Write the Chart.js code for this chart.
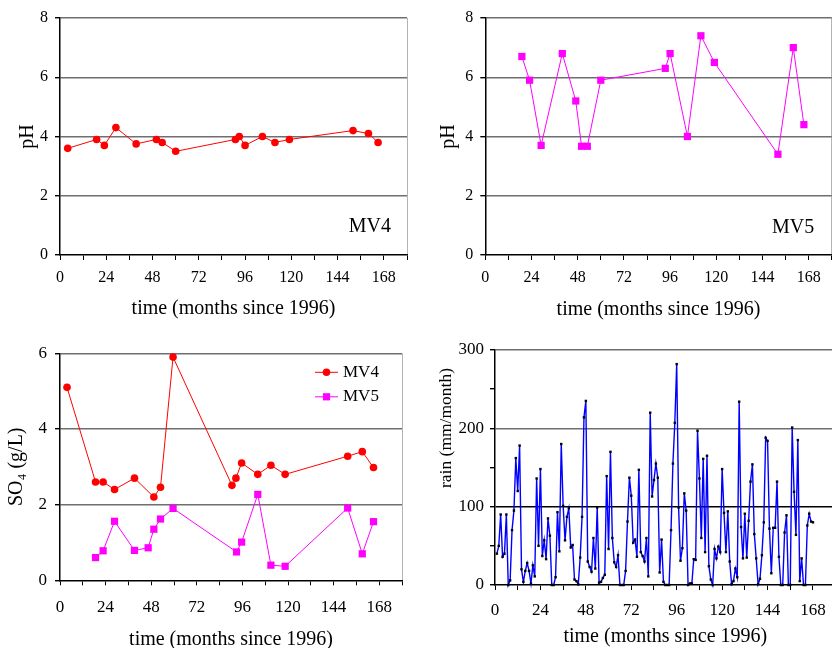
<!DOCTYPE html>
<html><head><meta charset="utf-8">
<script src="https://cdn.jsdelivr.net/npm/chart.js@4.4.1/dist/chart.umd.min.js"></script>
<style>
html,body{margin:0;padding:0;background:#fff;overflow:hidden;width:832px;height:648px;position:relative;}
canvas{position:absolute;}
</style></head><body>
<canvas id="cA" width="416" height="324" style="left:0;top:0"></canvas>
<canvas id="cB" width="416" height="324" style="left:416px;top:0"></canvas>
<canvas id="cC" width="416" height="330" style="left:0;top:324px"></canvas>
<canvas id="cD" width="424" height="330" style="left:416px;top:324px"></canvas>
<script>
// ---------- data ----------
const xTickLabels = [0, 24, 48, 72, 96, 120, 144, 168];
const phMonthsMV4 = [4, 19, 23, 29, 39.5, 50, 53, 60, 91, 93, 96, 105, 111.5, 119, 152, 160, 165];
const phMV4       = [3.6, 3.9, 3.7, 4.3, 3.75, 3.9, 3.8, 3.5, 3.9, 4.0, 3.7, 4.0, 3.8, 3.9, 4.2, 4.1, 3.8];
const phMonthsMV5 = [19, 23, 29, 40, 47, 50, 53, 60, 93.5, 96, 105, 112, 119, 152, 160, 165.5];
const phMV5       = [6.7, 5.9, 3.7, 6.8, 5.2, 3.67, 3.67, 5.9, 6.3, 6.8, 4.0, 7.4, 6.5, 3.4, 7.0, 4.4];
const so4MonthsMV4 = [3.7, 18.7, 22.7, 28.7, 39.2, 49.4, 52.9, 59.5, 90.5, 92.6, 95.6, 104.1, 111, 118.5, 151.4, 159.1, 165];
const so4MV4       = [5.1, 2.6, 2.6, 2.4, 2.7, 2.2, 2.46, 5.9, 2.51, 2.7, 3.1, 2.8, 3.04, 2.8, 3.28, 3.4, 2.98];
const so4MonthsMV5 = [18.7, 22.7, 28.7, 39.2, 46.4, 49.4, 52.9, 59.5, 92.9, 95.6, 104.1, 111, 118.5, 151.4, 159.1, 165];
const so4MV5       = [0.6, 0.78, 1.56, 0.79, 0.86, 1.35, 1.62, 1.9, 0.75, 1.01, 2.27, 0.4, 0.37, 1.91, 0.7, 1.55];
const rainFirstMonth = 1;
const rain = [40, 50, 90, 36, 40, 90, 0, 6, 70, 95, 162, 120, 178, 20, 4, 18, 28, 18, 2, 25,
  11, 136, 50, 148, 37, 57, 33, 85, 63, 0, 0, 10, 93, 43, 180, 101, 57, 87, 98, 48,
  51, 7, 5, 1, 35, 87, 214, 235, 30, 23, 17, 60, 21, 99, 3, 4, 9, 13, 139, 46,
  170, 60, 29, 23, 38, 0, 0, 0, 18, 81, 137, 114, 54, 58, 36, 147, 42, 37, 30, 60,
  11, 220, 113, 134, 155, 137, 16, 58, 4, 0, 0, 0, 70, 155, 207, 282, 99, 31, 47, 117,
  95, 0, 2, 2, 33, 32, 197, 136, 60, 161, 42, 165, 24, 7, 0, 46, 34, 49, 42, 148,
  92, 42, 94, 30, 1, 5, 21, 10, 234, 74, 34, 91, 35, 82, 132, 154, 65, 34, 1, 8,
  38, 80, 188, 184, 72, 15, 73, 73, 132, 36, 0, 0, 67, 89, 0, 0, 201, 119, 64, 185,
  5, 34, 0, 0, 76, 91, 81, 80];

// ---------- helpers ----------
const FONT = '"Liberation Serif", "Times New Roman", serif';
const GRAY = '#6f6f6f';
const pts = (xs, ys) => xs.map((x, i) => ({x: x, y: ys[i]}));

function makeOptions(o) {
  return {
    responsive: false, animation: false,
    layout: {autoPadding: false, padding: {top: o.padTop, right: o.padRight, left: 0, bottom: 0}},
    plugins: {legend: {display: false}, tooltip: {enabled: false}},
    scales: {
      x: {
        type: 'linear', min: 0, max: 180,
        afterFit: s => { s.height = o.xH; s.paddingLeft = 0; s.paddingRight = 0; },
        ticks: {stepSize: 12, autoSkip: false, maxRotation: 0, minRotation: 0,
          padding: o.xTickPad, color: '#000', font: {family: FONT, size: o.tickSize},
          callback: v => xTickLabels.includes(v) ? String(v) : ''},
        grid: {drawOnChartArea: true, lineWidth: 1, tickLength: 5, tickColor: '#000',
          color: c => (c.tick && c.tick.value === 180) ? '#b4b4b4' : 'rgba(0,0,0,0)'},
        border: {color: '#000', width: 1.5},
        title: {display: true, text: 'time (months since 1996)', color: '#000',
          font: {family: FONT, size: 20, lineHeight: 1}, padding: {top: 0, bottom: o.xTitlePad}}
      },
      y: {
        type: 'linear', min: o.yMin, max: o.yMax,
        afterFit: s => { s.width = o.yW; },
        ticks: {stepSize: o.yStep, padding: o.yTickPad, color: '#000', font: {family: FONT, size: o.tickSize},
          callback: v => (v % o.yLabelEvery === 0) ? String(v) : ''},
        grid: {lineWidth: 1.4, tickLength: 5, tickColor: '#000', color: o.yGrid},
        border: {color: '#000', width: 1.5},
        title: {display: !!o.yTitle, text: o.yTitle || '', color: '#000',
          font: {family: FONT, size: o.yTitleSize || 20, lineHeight: 1}, padding: {top: o.yTitlePad || 0, bottom: 0}}
      }
    }
  };
}

const cornerLabel = {
  id: 'cornerLabel',
  afterDraw(chart, args, opts) {
    if (!opts.text) return;
    const {ctx, chartArea: a} = chart;
    ctx.save();
    ctx.font = '20px ' + FONT; ctx.fillStyle = '#000';
    ctx.textAlign = 'right'; ctx.textBaseline = 'middle';
    ctx.fillText(opts.text, a.right - opts.dx, a.bottom - opts.dy);
    ctx.restore();
  }
};

// rotated axis title placed at a given point (used where the title is not centred on the plot)
const sideTitle = {
  id: 'sideTitle',
  afterDraw(chart, args, opts) {
    if (!opts.text) return;
    const ctx = chart.ctx;
    ctx.save();
    ctx.translate(opts.x, opts.y);
    ctx.rotate(-Math.PI / 2);
    ctx.font = opts.size + 'px ' + FONT; ctx.fillStyle = '#000';
    ctx.textAlign = 'center'; ctx.textBaseline = 'middle';
    ctx.fillText(opts.text, 0, 0);
    ctx.restore();
  }
};

const innerLegend = {
  id: 'innerLegend',
  afterDraw(chart, args, opts) {
    if (!opts.show) return;
    const {ctx, chartArea: a} = chart;
    chart.data.datasets.forEach((ds, i) => {
      const y = a.top + 19 + i * 24.5;
      const x0 = a.right - 87, x1 = a.right - 64, xm = (x0 + x1) / 2;
      ctx.save();
      ctx.strokeStyle = ds.borderColor; ctx.lineWidth = 1;
      ctx.beginPath(); ctx.moveTo(x0, y); ctx.lineTo(x1, y); ctx.stroke();
      ctx.fillStyle = ds.backgroundColor;
      if (ds.pointStyle === 'rect') {
        ctx.fillRect(xm - 3.6, y - 3.6, 7.2, 7.2);
      } else {
        ctx.beginPath(); ctx.arc(xm, y, 3.8, 0, Math.PI * 2); ctx.fill();
      }
      ctx.font = '17px ' + FONT; ctx.fillStyle = '#000';
      ctx.textAlign = 'left'; ctx.textBaseline = 'middle';
      ctx.fillText(ds.label, a.right - 59, y);
      ctx.restore();
    });
  }
};

const phGrid = c => (c.tick && c.tick.value > 0) ? GRAY : 'rgba(0,0,0,0)';

function mv4Set(xs, ys) {
  return {label: 'MV4', data: pts(xs, ys), borderColor: '#ff0000', backgroundColor: '#ff0000',
    borderWidth: 1, pointStyle: 'circle', pointRadius: 3.8, pointBorderWidth: 0, pointHoverRadius: 3.8, clip: false};
}
function mv5Set(xs, ys) {
  return {label: 'MV5', data: pts(xs, ys), borderColor: '#ff00ff', backgroundColor: '#ff00ff',
    borderWidth: 1, pointStyle: 'rect', pointRadius: 5.1, pointBorderWidth: 0, pointHoverRadius: 5.1, clip: false};
}

// ---------- panel A: pH MV4 ----------
const optA = makeOptions({padTop: 18, padRight: 9, xH: 69, xTickPad: 8, xTitlePad: 5.7, tickSize: 16,
  yMin: 0, yMax: 8, yStep: 2, yLabelEvery: 2, yW: 60, yTickPad: 7, yTitle: 'pH', yTitlePad: 18, yGrid: phGrid});
optA.plugins.cornerLabel = {text: 'MV4', dx: 16, dy: 28};
new Chart(document.getElementById('cA'), {type: 'line', data: {datasets: [mv4Set(phMonthsMV4, phMV4)]},
  options: optA, plugins: [cornerLabel]});

// ---------- panel B: pH MV5 ----------
const optB = makeOptions({padTop: 18, padRight: 0.2, xH: 69, xTickPad: 8, xTitlePad: 4.7, tickSize: 16,
  yMin: 0, yMax: 8, yStep: 2, yLabelEvery: 2, yW: 69.3, yTickPad: 7, yTitle: 'pH', yTitlePad: 23, yGrid: phGrid});
optB.plugins.cornerLabel = {text: 'MV5', dx: 17.5, dy: 27};
new Chart(document.getElementById('cB'), {type: 'line', data: {datasets: [mv5Set(phMonthsMV5, phMV5)]},
  options: optB, plugins: [cornerLabel]});

// ---------- panel C: SO4 ----------
const optC = makeOptions({padTop: 29.3, padRight: 14, xH: 73.7, xTickPad: 12, xTitlePad: 4.7, tickSize: 17,
  yMin: 0, yMax: 6, yStep: 2, yLabelEvery: 2, yW: 60, yTickPad: 8, yTitle: 'SO\u2084 (g/L)', yTitlePad: 7, yGrid: phGrid});
optC.plugins.innerLegend = {show: true};
new Chart(document.getElementById('cC'), {type: 'line',
  data: {datasets: [mv4Set(so4MonthsMV4, so4MV4), mv5Set(so4MonthsMV5, so4MV5)]},
  options: optC, plugins: [innerLegend]});

// ---------- panel D: rain ----------
const rainGrid = c => {
  if (!c.tick) return 'rgba(0,0,0,0)';
  const v = c.tick.value;
  if (v === 100) return '#000';
  if (v === 200 || v === 300) return GRAY;
  return 'rgba(0,0,0,0)';
};
const optD = makeOptions({padTop: 26, padRight: 4.3, xH: 69, xTickPad: 10, xTitlePad: 7, tickSize: 17,
  yMin: 0, yMax: 300, yStep: 50, yLabelEvery: 100, yW: 79, yTickPad: 6, yGrid: rainGrid});
optD.plugins.sideTitle = {text: 'rain (mm/month)', x: 30, y: 104, size: 17.5};
new Chart(document.getElementById('cD'), {type: 'line',
  data: {datasets: [{label: 'rain', data: rain.map((v, i) => ({x: rainFirstMonth + i, y: v})),
    borderColor: '#0000ff', backgroundColor: '#000', borderWidth: 1.4,
    pointStyle: 'rect', pointRadius: 1.7, pointBorderWidth: 0, pointBackgroundColor: '#000', clip: false}]},
  options: optD, plugins: [sideTitle]});
</script>
</body></html>
